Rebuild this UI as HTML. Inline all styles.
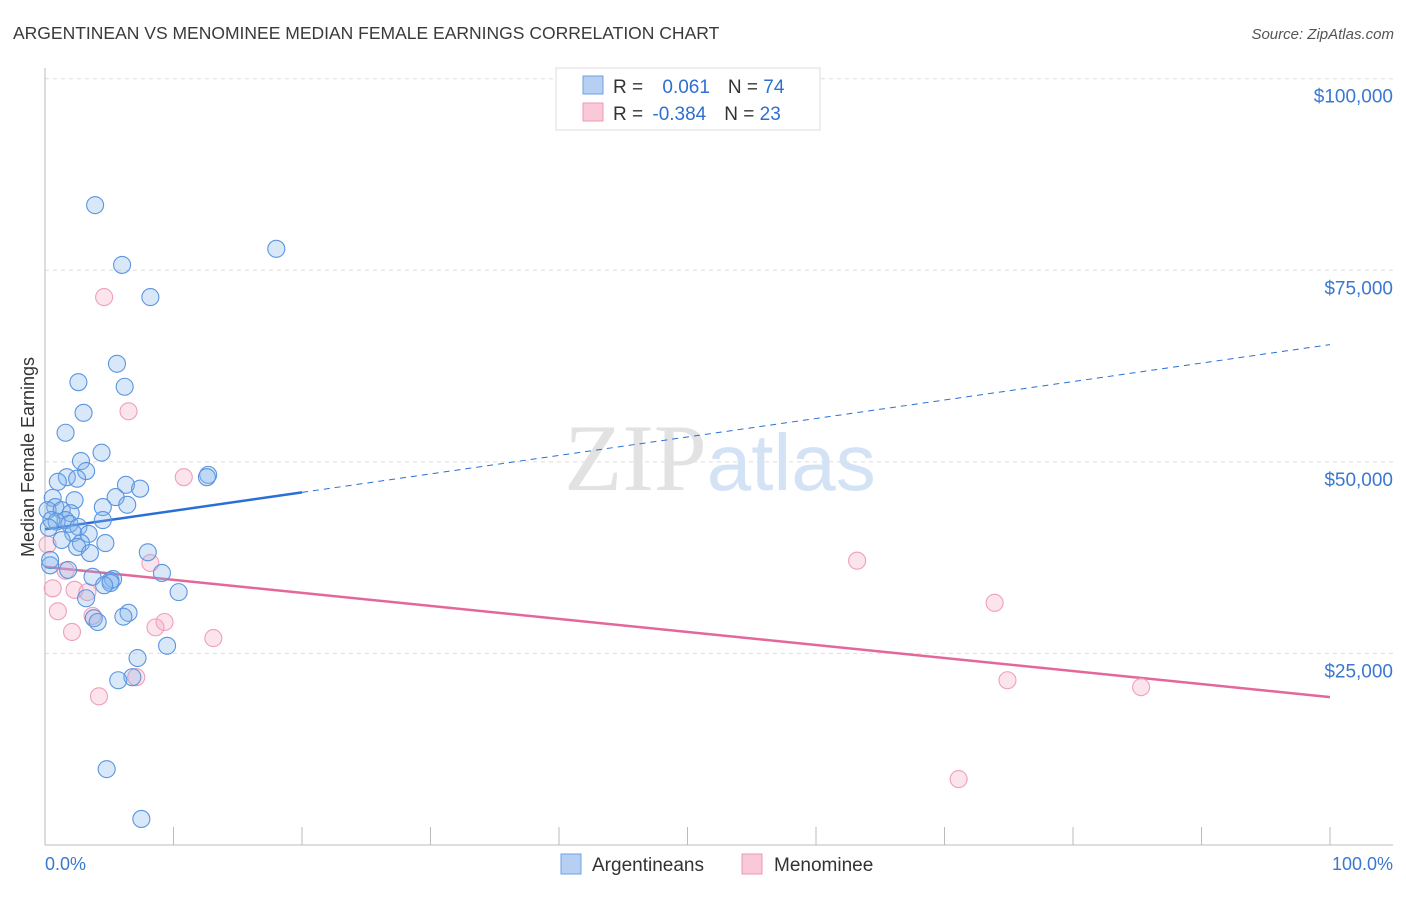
<!DOCTYPE html>
<html><head><meta charset="utf-8"><style>
body{margin:0;background:#fff;font-family:"Liberation Sans",sans-serif;}
</style></head><body>
<svg id="chart" width="1406" height="892" xmlns="http://www.w3.org/2000/svg" font-family="Liberation Sans, sans-serif">
<text x="13" y="39" font-size="17.5" fill="#3a3a3a">ARGENTINEAN VS MENOMINEE MEDIAN FEMALE EARNINGS CORRELATION CHART</text>
<text x="1394" y="39" font-size="15" fill="#555" text-anchor="end" font-style="italic">Source: ZipAtlas.com</text>
<g id="grid"></g>
<g id="axes"></g>
<text x="720" y="490" font-size="95" text-anchor="middle" fill="#e2e2e2" font-family="Liberation Serif, serif">ZIP<tspan fill="#d3e2f4" font-family="Liberation Sans, sans-serif" font-size="80">atlas</tspan></text>
<g id="trend"></g>
<g id="points"></g>
<text transform="translate(34,457) rotate(-90)" font-size="18" fill="#333" text-anchor="middle">Median Female Earnings</text>
<text x="45" y="870" font-size="18" fill="#3a78d0">0.0%</text>
<text x="1393" y="870" font-size="18" fill="#3a78d0" text-anchor="end">100.0%</text>
<g>
<rect x="556" y="68" width="264" height="62" fill="#fff" stroke="#ddd"/>
<rect x="583" y="76" width="20" height="18" fill="#b5d0f3" stroke="#6fa0e0"/>
<rect x="583" y="103" width="20" height="18" fill="#f9c9d8" stroke="#ec9ab4"/>
<text x="613" y="93" font-size="19" fill="#333">R = <tspan fill="#2f6fd0" dx="14">0.061</tspan><tspan dx="18">N = </tspan><tspan fill="#2f6fd0">74</tspan></text>
<text x="613" y="120" font-size="19" fill="#333">R = <tspan fill="#2f6fd0" dx="4">-0.384</tspan><tspan dx="18">N = </tspan><tspan fill="#2f6fd0">23</tspan></text>
</g>
<g>
<rect x="561" y="854" width="20" height="20" fill="#b5d0f3" stroke="#6fa0e0"/>
<text x="592" y="871" font-size="19" fill="#333">Argentineans</text></g>
<g>
<rect x="742" y="854" width="20" height="20" fill="#f9c9d8" stroke="#ec9ab4"/>
<text x="774" y="871" font-size="19" fill="#333">Menominee</text></g>
</svg>
<script>
const yTicks=[25000,50000,75000,100000];
const yTickLabels=["$25,000","$50,000","$75,000","$100,000"];
const blueX=[3.9,6.0,18.0,8.2,5.6,2.6,6.2,3.0,1.6,4.4,2.8,3.2,1.7,2.5,12.7,12.6,1.0,6.3,7.4,0.6,2.3,5.5,6.4,4.5,0.8,0.2,1.3,2.0,1.6,0.5,4.5,0.9,1.9,2.6,0.3,2.2,3.4,1.3,2.8,4.7,2.5,3.5,8.0,0.4,1.8,9.1,3.7,5.3,5.1,5.1,4.6,10.4,3.2,6.5,3.8,4.1,6.1,9.5,7.2,6.8,5.7,4.8,7.5,0.4];
const blueY=[83.5,75.7,77.8,71.5,62.8,60.4,59.8,56.4,53.8,51.2,50.1,48.8,48.0,47.8,48.3,48.0,47.4,47.0,46.5,45.3,45.0,45.4,44.4,44.1,44.1,43.7,43.7,43.3,42.4,42.4,42.4,42.2,41.9,41.5,41.4,40.7,40.6,39.8,39.4,39.4,38.9,38.1,38.2,36.5,35.9,35.5,35.0,34.7,34.5,34.2,33.9,33.0,32.2,30.3,29.6,29.1,29.8,26.0,24.4,21.9,21.5,9.9,3.4,37.2];
const pinkX=[4.6,6.5,10.8,63.2,8.2,0.2,1.6,0.6,2.3,3.3,73.9,1.0,3.7,9.3,8.6,2.1,13.1,7.1,74.9,85.3,4.2,71.1];
const pinkY=[71.5,56.6,48.0,37.1,36.8,39.2,35.8,33.5,33.3,33.0,31.6,30.5,29.9,29.1,28.4,27.8,27.0,21.9,21.5,20.6,19.4,8.6];
const blueTrend=[41.2,65.3];
const pinkTrend=[36.3,19.3];
const NS="http://www.w3.org/2000/svg";
const xS=v=>45+v*12.85;
const yS=v=>845-v*1000/130.5;
function mk(t,p,a){const e=document.createElementNS(NS,t);for(const k in a)e.setAttribute(k,a[k]);p.appendChild(e);return e;}
const grid=document.getElementById('grid'),axes=document.getElementById('axes');
yTicks.forEach((t,i)=>{const y=845-t/130.5;
const l=mk('line',grid,{x1:45,x2:1393,y1:y,y2:y,stroke:'#ddd','stroke-dasharray':'4,4'});


const tx=mk('text',grid,{x:1393,y:y+24,'font-size':19,fill:'#3a78d0','text-anchor':'end'});
tx.textContent=yTickLabels[i];

});
const ax=mk('line',axes,{x1:45,x2:45,y1:68,y2:845,stroke:'#bbb'});


const bx=mk('line',axes,{x1:45,x2:1393,y1:845,y2:845,stroke:'#bbb'});


for(let i=0;i<=10;i++){const t=mk('line',axes,{x1:xS(i*10),x2:xS(i*10),y1:827,y2:845,stroke:'#bbb'});

}
const tr=document.getElementById('trend');
const by=x=>blueTrend[0]+(blueTrend[1]-blueTrend[0])*x/100;
const l1=mk('line',tr,{x1:xS(0),y1:yS(by(0)),x2:xS(20),y2:yS(by(20)),stroke:'#2a6fd6','stroke-width':2.5});


const l2=mk('line',tr,{x1:xS(20),y1:yS(by(20)),x2:xS(100),y2:yS(by(100)),stroke:'#2a6fd6','stroke-width':1,'stroke-dasharray':'6,5'});


const l3=mk('line',tr,{x1:xS(0),y1:yS(pinkTrend[0]),x2:xS(100),y2:yS(pinkTrend[1]),stroke:'#e4679a','stroke-width':2.5});


const pts=document.getElementById('points');
pinkX.forEach((x,i)=>{const c=mk('circle',pts,{cx:xS(x),cy:yS(pinkY[i]),r:8.5,fill:'rgba(244,167,191,0.3)',stroke:'#ef9fb9','stroke-width':1.1});

});
blueX.forEach((x,i)=>{const c=mk('circle',pts,{cx:xS(x),cy:yS(blueY[i]),r:8.5,fill:'rgba(130,178,236,0.3)',stroke:'#5b95e0','stroke-width':1.1});

});
</script>
</body></html>
